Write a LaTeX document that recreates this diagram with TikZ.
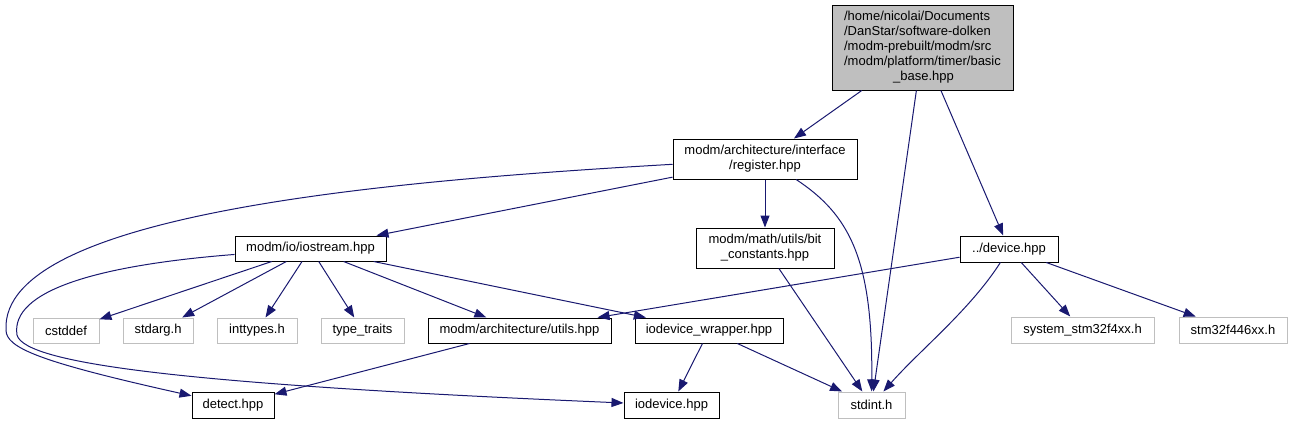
\documentclass[tikz,border=0pt]{standalone}
\usepackage{fontspec}
\setmainfont{Liberation Sans}
\usetikzlibrary{arrows.meta,calc}
\definecolor{inclblue}{RGB}{25, 25, 112}
\definecolor{sysgray}{RGB}{191, 191, 191}

\tikzset{
  file/.style={draw=black, line width=1pt, fill=white, inner sep=0pt, minimum height=25pt,
    font=\fontsize{13}{15}\selectfont, align=center},
  sysfile/.style={file, draw=sysgray},
  incl/.style={draw=inclblue, line width=1pt, -{Triangle[length=12pt,width=9pt]}}
}

\begin{document}
\begin{tikzpicture}[x=1pt, y=-1pt]
    \useasboundingbox (0,0) rectangle (1293,424);
    % top file
    \node[file, fill=sysgray, minimum width=181pt, minimum height=85pt, align=left] (base) at (922.5,47.5)
      {/home/nicolai/Documents\\/DanStar/software-dolken\\/modm-prebuilt/modm/src\\/modm/platform/timer/basic\\\hspace*{49pt}\_base.hpp};
    \node[file, minimum width=184pt, minimum height=40pt] (register) at (765,159) {modm/architecture/interface\\/register.hpp};
    \node[file, minimum width=151pt] (iostream) at (310.5,248.5) {modm/io/iostream.hpp};
    \node[file, minimum width=138pt, minimum height=40pt] (bitconst) at (765,248) {modm/math/utils/bit\\\_constants.hpp};
    \node[file, minimum width=98pt, minimum height=26pt] (device) at (1009,249) {../device.hpp};
    % third row
    \node[sysfile, minimum width=66pt] (cstddef) at (66,330.5) {cstddef};
    \node[sysfile, minimum width=70pt] (stdarg) at (158,330.5) {stdarg.h};
    \node[sysfile, minimum width=80pt] (inttypes) at (257,330.5) {inttypes.h};
    \node[sysfile, minimum width=83pt] (typetraits) at (362.5,330.5) {type\_traits};
    \node[file, minimum width=183pt] (utils) at (519.5,330.5) {modm/architecture/utils.hpp};
    \node[file, minimum width=148pt] (iowrapper) at (709,330.5) {iodevice\_wrapper.hpp};
    \node[sysfile, minimum width=143pt, minimum height=26pt] (sysstm) at (1082.5,330) {system\_stm32f4xx.h};
    \node[sysfile, minimum width=108pt, minimum height=26pt] (stm446) at (1233,330) {stm32f446xx.h};
    % bottom row
    \node[file, minimum width=82pt, minimum height=26pt] (detect) at (233,405) {detect.hpp};
    \node[file, minimum width=95pt, minimum height=26pt] (iodevice) at (671.5,405) {iodevice.hpp};
    \node[sysfile, minimum width=67pt, minimum height=26pt] (stdint) at (871.5,405) {stdint.h};

    % includes
    \draw[incl] (base) -- (register);
    \draw[incl] (base) -- (stdint);
    \draw[incl] (base) -- (device);
    \draw[incl] (register) -- (iostream);
    \draw[incl] (register) .. controls (400,180) and (0,212) .. (6,330) .. controls (6,348) and (40,362) .. (detect);
    \draw[incl] (register) -- (bitconst);
    \draw[incl] (register) .. controls (850,215) and (873,260) .. (stdint);
    \draw[incl] (iostream) .. controls (100,265) and (10,290) .. (17,335) .. controls (25,365) and (200,385) .. (iodevice);
    \draw[incl] (iostream) -- (cstddef);
    \draw[incl] (iostream) -- (stdarg);
    \draw[incl] (iostream) -- (inttypes);
    \draw[incl] (iostream) -- (typetraits);
    \draw[incl] (iostream) -- (utils);
    \draw[incl] (iostream) -- (iowrapper);
    \draw[incl] (bitconst) -- (stdint);
    \draw[incl] (device) -- (utils);
    \draw[incl] (device) .. controls (970,310) and (920,350) .. (stdint);
    \draw[incl] (device) -- (sysstm);
    \draw[incl] (device) -- (stm446);
    \draw[incl] (utils) -- (detect);
    \draw[incl] (iowrapper) -- (iodevice);
    \draw[incl] (iowrapper) -- (stdint);
\end{tikzpicture}
\end{document}
